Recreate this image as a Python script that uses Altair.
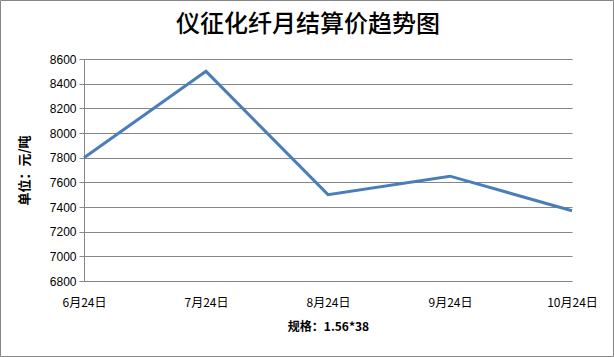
import altair as alt
import pandas as pd

title_text = "仪征化纤月结算价趋势图"
dates = ["6月24日", "7月24日", "8月24日", "9月24日", "10月24日"]
prices = [7800, 8500, 7500, 7650, 7370]
y_ticks = [6800, 7000, 7200, 7400, 7600, 7800, 8000, 8200, 8400, 8600]

df = pd.DataFrame({"date": dates, "price": prices})

line = alt.Chart(df).mark_line(color="#4A7EBB", strokeWidth=3).encode(
    x=alt.X("date:N", sort=dates,
            scale=alt.Scale(type="point", padding=0),
            axis=alt.Axis(title="规格：1.56*38", labelAngle=0, labelFontSize=12,
                          labelFont="Noto Sans CJK SC", labelColor="#000000",
                          labelPadding=16, ticks=False, domain=False,
                          titleFont="Noto Sans CJK SC", titleFontSize=12,
                          titleFontWeight="bold", titleColor="#000000",
                          titlePadding=13)),
    y=alt.Y("price:Q", scale=alt.Scale(domain=[6800, 8600], nice=False, zero=False),
            axis=alt.Axis(title="单位：元/吨", values=y_ticks, format="d",
                          labelFontSize=12, labelFont="Liberation Sans",
                          labelColor="#000000", labelPadding=3, tickSize=5,
                          tickColor="#868686", domainColor="#868686",
                          gridColor="#868686", grid=True,
                          titleFont="Noto Sans CJK SC", titleFontSize=13,
                          titleFontWeight="bold", titleColor="#000000",
                          titlePadding=18)),
)

border = alt.Chart(pd.DataFrame({"a": [0]})).mark_rect(
    fill=None, stroke="#868686", strokeWidth=1, clip=False
).encode(
    x=alt.value(-83.5), x2=alt.value(529.5),
    y=alt.value(-58.5), y2=alt.value(297.5),
)

title = alt.Chart(pd.DataFrame({"t": [title_text]})).mark_text(
    font="Noto Sans CJK SC", fontSize=24, fontWeight=500, color="#000000",
    align="center", baseline="middle", clip=False
).encode(
    text="t:N", x=alt.value(224), y=alt.value(-34),
)

chart = alt.layer(border, line, title).properties(
    width=488, height=222,
    autosize=alt.AutoSizeParams(type="none"),
    padding={"left": 84, "top": 59, "right": 42, "bottom": 76},
).configure_view(stroke=None).configure_axis(gridWidth=1, domainWidth=1)

chart.save("out.html", embed_options={"renderer": "svg", "actions": False})
